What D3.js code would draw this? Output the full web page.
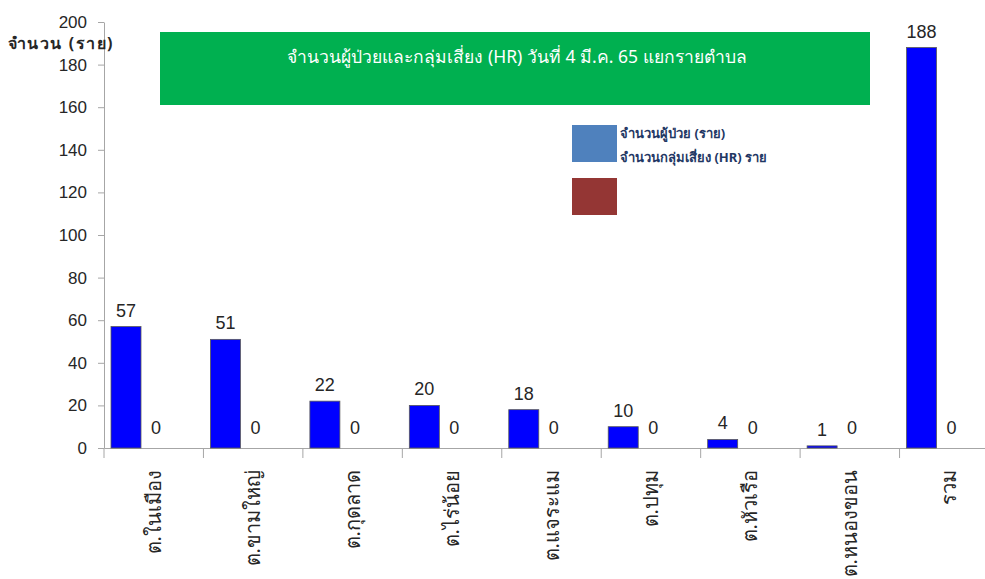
<!DOCTYPE html>
<html>
<head>
<meta charset="utf-8">
<script src="https://cdn.jsdelivr.net/npm/d3@7"></script>
<style>
  body { margin: 0; background: #fff; }
  svg { display: block; font-family: "Noto Sans", "DejaVu Sans", sans-serif; }
</style>
</head>
<body>
<div id="chart"></div>
<script>
const categories = ['ต.ในเมือง', 'ต.ขามใหญ่', 'ต.กุดลาด', 'ต.ไร่น้อย', 'ต.แจระแม', 'ต.ปทุม', 'ต.หัวเรือ', 'ต.หนองขอน', 'รวม'];
const patients = [57, 51, 22, 20, 18, 10, 4, 1, 188];
const riskGroup = [0, 0, 0, 0, 0, 0, 0, 0, 0];
const yTicks = [0, 20, 40, 60, 80, 100, 120, 140, 160, 180, 200];
const seriesNames = ['จำนวนผู้ป่วย (ราย)', 'จำนวนกลุ่มเสี่ยง (HR) ราย'];
const title = 'จำนวนผู้ป่วยและกลุ่มเสี่ยง (HR) วันที่ 4 มี.ค. 65 แยกรายตำบล';
const yTitle = 'จำนวน (ราย)';

const width = 985, height = 579;
const margin = {top: 22, right: -14, bottom: 131, left: 104};

const svg = d3.select('#chart').append('svg')
    .attr('width', width)
    .attr('height', height);

const x = d3.scaleBand()
    .domain(categories)
    .range([margin.left, width - margin.right]);

const sub = d3.scaleBand()
    .domain([0, 1])
    .range([7, 67]);

const y = d3.scaleLinear()
    .domain([0, 200])
    .range([height - margin.bottom, margin.top]);

// y axis
const yAxis = svg.append('g')
    .attr('transform', `translate(${margin.left},0)`)
    .call(d3.axisLeft(y).tickValues(yTicks).tickSize(6).tickSizeOuter(0));
yAxis.select('.domain').attr('stroke', '#a6a6a6');
yAxis.selectAll('.tick line').attr('stroke', '#a6a6a6');
yAxis.selectAll('.tick text')
    .attr('x', -17)
    .attr('font-size', 17)
    .attr('fill', '#262626')
    .attr('font-family', 'Liberation Sans, Arial, sans-serif');

// x axis
const xAxis = svg.append('g')
    .attr('transform', `translate(0,${y(0)})`)
    .call(d3.axisBottom(x).tickSize(0).tickSizeOuter(0).tickFormat(''));
xAxis.select('.domain').attr('stroke', '#a6a6a6');
svg.append('g')
    .selectAll('line')
    .data(categories)
    .join('line')
    .attr('x1', d => x(d))
    .attr('x2', d => x(d))
    .attr('y1', y(0))
    .attr('y2', y(0) + 10)
    .attr('stroke', '#a6a6a6');

// rotated category labels
svg.append('g')
    .selectAll('text')
    .data(categories)
    .join('text')
    .attr('transform', d => `translate(${x(d) + x.bandwidth() / 2 + 7},${y(0) + 22}) rotate(-90)`)
    .attr('text-anchor', 'end')
    .attr('font-size', 20)
    .attr('fill', '#262626')
    .text(d => d);

// bars
svg.append('g')
    .selectAll('rect')
    .data(categories)
    .join('rect')
    .attr('x', d => x(d) + sub(0))
    .attr('y', (d, i) => y(patients[i]))
    .attr('width', sub.bandwidth())
    .attr('height', (d, i) => y(0) - y(patients[i]))
    .attr('fill', '#0000ff')
    .attr('stroke', '#595959')
    .attr('stroke-width', 0.8);

svg.append('g')
    .selectAll('rect')
    .data(categories)
    .join('rect')
    .attr('x', d => x(d) + sub(1))
    .attr('y', (d, i) => y(riskGroup[i]))
    .attr('width', sub.bandwidth())
    .attr('height', (d, i) => y(0) - y(riskGroup[i]))
    .attr('fill', '#943634');

// value labels
svg.append('g')
    .selectAll('text')
    .data(categories)
    .join('text')
    .attr('x', d => x(d) + sub(0) + sub.bandwidth() / 2)
    .attr('y', (d, i) => y(patients[i]) - 10)
    .attr('text-anchor', 'middle')
    .attr('font-size', 18)
    .attr('fill', '#262626')
    .attr('font-family', 'Liberation Sans, Arial, sans-serif')
    .text((d, i) => patients[i]);

svg.append('g')
    .selectAll('text')
    .data(categories)
    .join('text')
    .attr('x', d => x(d) + sub(1) + sub.bandwidth() / 2)
    .attr('y', (d, i) => y(riskGroup[i]) - 14)
    .attr('text-anchor', 'middle')
    .attr('font-size', 18)
    .attr('fill', '#262626')
    .attr('font-family', 'Liberation Sans, Arial, sans-serif')
    .text((d, i) => riskGroup[i]);

// y title
svg.append('text')
    .attr('x', 61)
    .attr('y', 49)
    .attr('text-anchor', 'middle')
    .attr('font-size', 16)
    .attr('letter-spacing', 1.5)
    .attr('font-weight', 'bold')
    .attr('fill', '#262626')
    .text(yTitle);

// title box
svg.append('rect')
    .attr('x', 160).attr('y', 32)
    .attr('width', 710).attr('height', 73)
    .attr('fill', '#00b050');
svg.append('text')
    .attr('x', 517).attr('y', 63)
    .attr('text-anchor', 'middle')
    .attr('font-size', 17.5)
    .attr('fill', '#fff')
    .text(title);

// legend
const legendColors = ['#4f81bd', '#943634'];
svg.append('g')
    .selectAll('rect')
    .data(legendColors)
    .join('rect')
    .attr('x', 572)
    .attr('y', (d, i) => 125 + i * 53)
    .attr('width', 45)
    .attr('height', 37)
    .attr('fill', d => d);
svg.append('g')
    .selectAll('text')
    .data(seriesNames)
    .join('text')
    .attr('x', 620)
    .attr('y', (d, i) => 138 + i * 24)
    .attr('font-size', 13)
    .attr('font-weight', 'bold')
    .attr('fill', '#1f3864')
    .text(d => d);
</script>
</body>
</html>
